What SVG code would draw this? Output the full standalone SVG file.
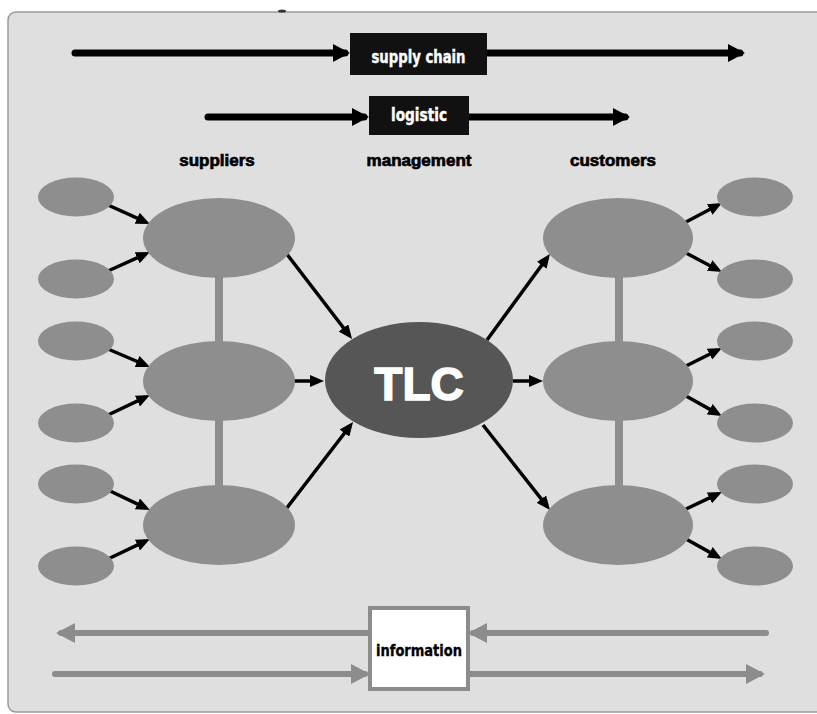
<svg xmlns="http://www.w3.org/2000/svg" width="817" height="714" viewBox="0 0 817 714">
<style>
.panel{fill:#dfdfdf;stroke:#9a9a9a;stroke-width:1.5}
.node{fill:#8e8e8e}
.tlc{fill:#565656}
.bar{fill:#8e8e8e}
.thin{stroke:#000;stroke-width:3.5;fill:none}
.thick{stroke:#000;stroke-width:7;fill:none;stroke-linecap:round}
.gray{stroke:#8c8c8c;stroke-width:6;fill:none;stroke-linecap:round}
.lbl{font-family:"Liberation Sans",Arial,sans-serif;font-weight:bold;font-size:17px;fill:#000;stroke:#000;stroke-width:0.7;text-anchor:middle}
.boxt{font-family:"Liberation Sans Narrow","DejaVu Sans Condensed","Liberation Sans",sans-serif;font-weight:bold;text-anchor:middle}
</style>
<defs>
<marker id="ah" markerUnits="userSpaceOnUse" markerWidth="14" markerHeight="12" refX="9" refY="6" orient="auto" viewBox="0 0 14 12"><path d="M0,0 L14,6 L0,12 z" fill="#000"/></marker>
<marker id="ahb" markerUnits="userSpaceOnUse" markerWidth="17" markerHeight="18" refX="12" refY="9" orient="auto" viewBox="0 0 17 18"><path d="M0,0 L17,9 L0,18 z" fill="#000"/></marker>
<marker id="ahg" markerUnits="userSpaceOnUse" markerWidth="19" markerHeight="20" refX="14" refY="10" orient="auto" viewBox="0 0 19 20"><path d="M0,0 L19,10 L0,20 z" fill="#8c8c8c"/></marker>
</defs>
<rect x="0" y="0" width="817" height="714" fill="#fff"/>
<rect class="panel" x="8" y="12" width="830" height="700" rx="8"/>
<ellipse cx="282" cy="11" rx="4" ry="1.5" fill="#333"/>

<g id="connectors">
<line class="thick" x1="75" y1="53" x2="345" y2="53" marker-end="url(#ahb)"/>
<line class="thick" x1="487" y1="53" x2="740" y2="53" stroke-linecap="butt" marker-end="url(#ahb)"/>
<line class="thick" x1="208" y1="117" x2="364" y2="117" stroke-width="6" marker-end="url(#ahb)"/>
<line class="thick" x1="469" y1="117" x2="625" y2="117" stroke-width="6" stroke-linecap="butt" marker-end="url(#ahb)"/>

<rect class="bar" x="215" y="270" width="8" height="220"/>
<rect class="bar" x="615" y="270" width="8" height="220"/>

<line class="thin" x1="108" y1="205" x2="145.4" y2="221.9" marker-end="url(#ah)"/>
<line class="thin" x1="108" y1="271" x2="145.4" y2="254.1" marker-end="url(#ah)"/>
<line class="thin" x1="108" y1="349" x2="145.4" y2="365" marker-end="url(#ah)"/>
<line class="thin" x1="108" y1="415" x2="145.5" y2="397.2" marker-end="url(#ah)"/>
<line class="thin" x1="108" y1="490" x2="145.5" y2="507.8" marker-end="url(#ah)"/>
<line class="thin" x1="108" y1="559" x2="145.5" y2="541.2" marker-end="url(#ah)"/>

<line class="thin" x1="286" y1="253" x2="349" y2="335" marker-end="url(#ah)"/>
<line class="thin" x1="293" y1="381" x2="319" y2="381" marker-end="url(#ah)"/>
<line class="thin" x1="286" y1="509" x2="350" y2="426" marker-end="url(#ah)"/>

<line class="thin" x1="487" y1="340" x2="547" y2="258" marker-end="url(#ah)"/>
<line class="thin" x1="513" y1="381" x2="538" y2="381" marker-end="url(#ah)"/>
<line class="thin" x1="483" y1="425" x2="546.9" y2="506.1" marker-end="url(#ah)"/>

<line class="thin" x1="686" y1="222" x2="717.6" y2="205.3" marker-end="url(#ah)"/>
<line class="thin" x1="686" y1="253" x2="717.6" y2="269.7" marker-end="url(#ah)"/>
<line class="thin" x1="686" y1="366" x2="717.5" y2="350.2" marker-end="url(#ah)"/>
<line class="thin" x1="686" y1="396" x2="717.6" y2="413.6" marker-end="url(#ah)"/>
<line class="thin" x1="686" y1="509" x2="717.5" y2="494.1" marker-end="url(#ah)"/>
<line class="thin" x1="686" y1="539" x2="717.6" y2="556.6" marker-end="url(#ah)"/>

<line class="gray" x1="370" y1="633" x2="61" y2="633" stroke-linecap="butt" marker-end="url(#ahg)"/>
<line class="gray" x1="766" y1="633" x2="473" y2="633" marker-end="url(#ahg)"/>
<line class="gray" x1="55" y1="674" x2="365" y2="674" marker-end="url(#ahg)"/>
<line class="gray" x1="468" y1="674" x2="760" y2="674" stroke-linecap="butt" marker-end="url(#ahg)"/>
</g>

<g id="supply-chain"><rect x="350" y="33" width="137" height="42" fill="#111"/><text class="boxt" x="418.5" y="63" font-size="17" fill="#fff" stroke="#fff" stroke-width="0.4" textLength="94" lengthAdjust="spacingAndGlyphs">supply chain</text></g>
<g id="logistic"><rect x="369" y="96" width="100" height="39" fill="#111"/><text class="boxt" x="419" y="121" font-size="17" fill="#fff" stroke="#fff" stroke-width="0.4" textLength="56" lengthAdjust="spacingAndGlyphs">logistic</text></g>

<g id="label-suppliers"><text class="lbl" x="217" y="166">suppliers</text></g>
<g id="label-management"><text class="lbl" x="419" y="166">management</text></g>
<g id="label-customers"><text class="lbl" x="613" y="166">customers</text></g>

<g id="s1"><ellipse class="node" cx="76" cy="197" rx="38" ry="19.5"/></g>
<g id="s2"><ellipse class="node" cx="76" cy="279" rx="38" ry="19.5"/></g>
<g id="s3"><ellipse class="node" cx="76" cy="341" rx="38" ry="19.5"/></g>
<g id="s4"><ellipse class="node" cx="76" cy="423" rx="38" ry="19.5"/></g>
<g id="s5"><ellipse class="node" cx="76" cy="484" rx="38" ry="19.5"/></g>
<g id="s6"><ellipse class="node" cx="76" cy="566" rx="38" ry="19.5"/></g>

<g id="supplier-1"><ellipse class="node" cx="219" cy="238" rx="76" ry="40"/></g>
<g id="supplier-2"><ellipse class="node" cx="219" cy="381" rx="76" ry="40"/></g>
<g id="supplier-3"><ellipse class="node" cx="219" cy="525" rx="76" ry="40"/></g>

<g id="tlc"><ellipse class="tlc" cx="419" cy="380" rx="94" ry="58"/><text x="419" y="400" font-family="'Liberation Sans',Arial,sans-serif" font-weight="bold" font-size="46" fill="#fff" stroke="#fff" stroke-width="1.5" text-anchor="middle">TLC</text></g>

<g id="customer-1"><ellipse class="node" cx="618" cy="238" rx="75" ry="40"/></g>
<g id="customer-2"><ellipse class="node" cx="618" cy="381" rx="75" ry="40"/></g>
<g id="customer-3"><ellipse class="node" cx="618" cy="525" rx="75" ry="40"/></g>

<g id="c1"><ellipse class="node" cx="755" cy="197" rx="38" ry="19.5"/></g>
<g id="c2"><ellipse class="node" cx="755" cy="279" rx="38" ry="19.5"/></g>
<g id="c3"><ellipse class="node" cx="755" cy="341" rx="38" ry="19.5"/></g>
<g id="c4"><ellipse class="node" cx="755" cy="423" rx="38" ry="19.5"/></g>
<g id="c5"><ellipse class="node" cx="755" cy="484" rx="38" ry="19.5"/></g>
<g id="c6"><ellipse class="node" cx="755" cy="566" rx="38" ry="19.5"/></g>

<g id="information"><rect x="370" y="608" width="98" height="81" fill="#fff" stroke="#8c8c8c" stroke-width="4"/><text class="boxt" x="419" y="656" font-size="15" fill="#000" stroke="#000" stroke-width="0.3" textLength="86" lengthAdjust="spacingAndGlyphs">information</text></g>
</svg>
